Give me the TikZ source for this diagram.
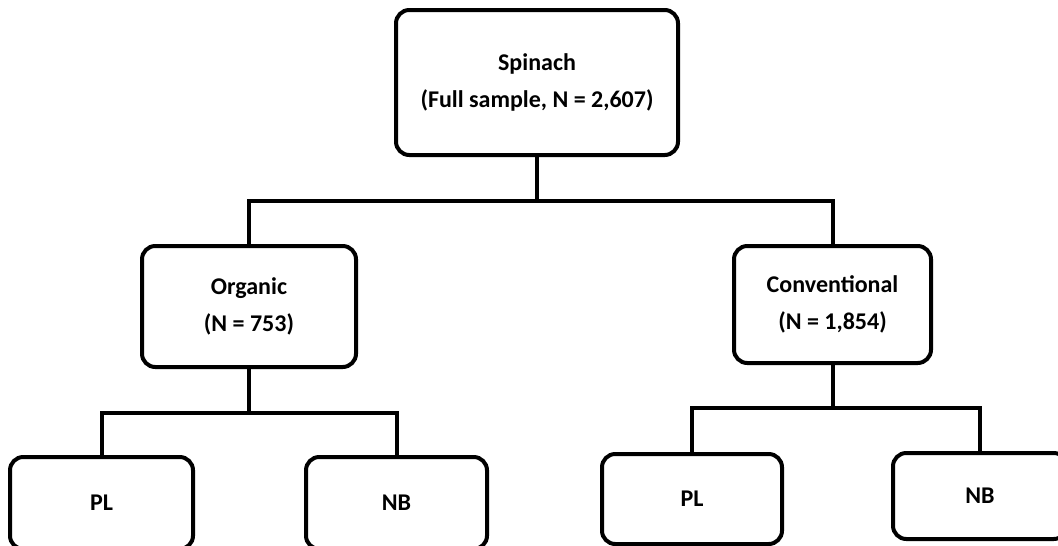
\documentclass[tikz,border=0pt]{standalone}
\usepackage{fontspec}
\setmainfont{Carlito}
\begin{document}
\begin{tikzpicture}[x=0.75pt,y=-0.75pt,
  box/.style={draw, line width=3pt, rounded corners=10pt, align=center,
    font=\bfseries\fontsize{18}{28}\selectfont},
  leaf/.style={box, minimum height=68pt},
  link/.style={line width=3pt}]
\clip (0,0) rectangle (1058,546);
\node[box, minimum width=211.5pt, minimum height=108.75pt] (spinach) at (537,82.5) {Spinach\\(Full sample, N = 2,607)};
\node[box, minimum width=160.5pt, minimum height=90.75pt] (organic) at (249,306.5) {Organic\\(N = 753)};
\node[box, minimum width=147.75pt, minimum height=87.75pt] (conv) at (832.5,304.5) {Conventional\\(N = 1,854)};
\node[leaf, minimum width=137.25pt, minimum height=69pt] (opl) at (101.5,503) {PL};
\node[leaf, minimum width=135.75pt, minimum height=69pt] (onb) at (396.5,503) {NB};
\node[leaf, minimum width=135pt, minimum height=67.5pt] (cpl) at (692,499) {PL};
\node[leaf, minimum width=130.5pt, minimum height=64.5pt] (cnb) at (980,496) {NB};
\coordinate (j0) at (537,201);
\coordinate (j1) at (249,413);
\coordinate (j2) at (832.5,408);
\draw [link] (spinach) -- (j0);
\draw [link] (organic.north) |- (j0) -| (conv.north);
\draw [link] (organic) -- (j1);
\draw [link] (opl.north) |- (j1) -| (onb.north);
\draw [link] (conv) -- (j2);
\draw [link] (cpl.north) |- (j2) -| (cnb.north);
\end{tikzpicture}
\end{document}
